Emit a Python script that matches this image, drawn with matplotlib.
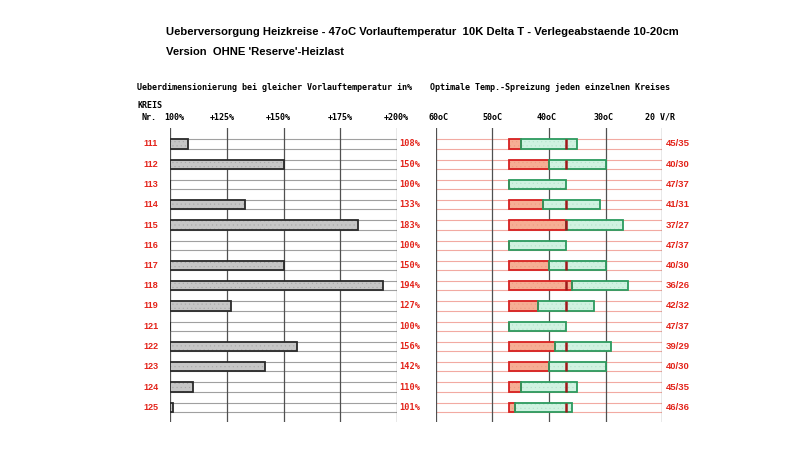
import matplotlib
matplotlib.use("Agg")
import matplotlib.pyplot as plt
import numpy as np

# ---- data ----
kreis = ['111', '112', '113', '114', '115', '116', '117', '118', '119', '121', '122', '123', '124', '125']
ueber = [108, 150, 100, 133, 183, 100, 150, 194, 127, 100, 156, 142, 110, 101]
vorlauf = [45, 40, 47, 41, 37, 47, 40, 36, 42, 47, 39, 40, 45, 46]
ruecklauf = [35, 30, 37, 31, 27, 37, 30, 26, 32, 37, 29, 30, 35, 36]
supply_temp = 47
nominal_return = 37
left_ticks = [100, 125, 150, 175, 200]
left_ticklabels = ['100%', '+125%', '+150%', '+175%', '+200%']
right_ticks = [60, 50, 40, 30, 20]
right_ticklabels = ['60oC', '50oC', '40oC', '30oC', '20 V/R']

title1 = "Ueberversorgung Heizkreise - 47oC Vorlauftemperatur  10K Delta T - Verlegeabstaende 10-20cm"
title2 = "Version  OHNE 'Reserve'-Heizlast"
sub_left = "Ueberdimensionierung bei gleicher Vorlauftemperatur in%"
sub_right = "Optimale Temp.-Spreizung jeden einzelnen Kreises"

RED = '#e3241b'
MONO = 'DejaVu Sans Mono'
SANS = 'Liberation Sans'
plt.rcParams['hatch.linewidth'] = 0.3

W, H = 800, 450
fig = plt.figure(figsize=(8, 4.5), dpi=100)
fig.patch.set_facecolor('white')

def fx(px):
    return px / W

def fy(py):
    return 1 - py / H

y_top_px, y_bot_px = 128, 422
row0_px, pitch = 144.0, 20.25
ylim = ((y_bot_px - row0_px) / pitch, (y_top_px - row0_px) / pitch)
ax_bottom = fy(y_bot_px)
ax_height = (y_bot_px - y_top_px) / H

axL = fig.add_axes([fx(170.3), ax_bottom, fx(396.7 - 170.3), ax_height])
axR = fig.add_axes([fx(435.7), ax_bottom, fx(662.3 - 435.7), ax_height])

n = len(kreis)
ys = np.arange(n)
bh = 0.45

for ax in (axL, axR):
    ax.set_ylim(*ylim)
    for s in ax.spines.values():
        s.set_visible(False)
    ax.set_xticks([])
    ax.set_yticks([])
    ax.patch.set_alpha(0)

axL.set_xlim(100, 200)
axR.set_xlim(60, 20)

# horizontal row lines
for y in ys:
    for dy in (-bh / 2, bh / 2):
        axL.plot([100, 200.8], [y + dy, y + dy], color='#a0a0a0', lw=0.8, zorder=1)
        axR.plot([60, 20], [y + dy, y + dy], color='#f2aaa2', lw=0.8, zorder=1)

# vertical grid
for t in left_ticks:
    axL.axvline(t, color='#505050', lw=0.9, zorder=2)
for t in right_ticks:
    axR.axvline(t, color='#505050', lw=0.9, zorder=2)

# left bars
widths = [u - 100 for u in ueber]
axL.barh(ys, widths, left=100, height=bh, color='#c6c6c6', edgecolor='#a8a8a8',
         hatch='....', linewidth=0, zorder=3)
axL.barh(ys, widths, left=100, height=bh, facecolor='none', edgecolor='#2a2a2a',
         linewidth=1.3, zorder=4)

# right bars
red_w = [supply_temp - v for v in vorlauf]
green_w = [v - r for v, r in zip(vorlauf, ruecklauf)]
axR.barh(ys, red_w, left=vorlauf, height=bh, color='#f6ae94', edgecolor='#ee9c82',
         hatch='....', linewidth=0, zorder=3)
axR.barh(ys, red_w, left=vorlauf, height=bh, facecolor='none', edgecolor='#d62020',
         linewidth=1.3, zorder=4)
axR.barh(ys, green_w, left=ruecklauf, height=bh, color='#d0f2e1', edgecolor='#b4e3cb',
         hatch='....', linewidth=0, zorder=3)
axR.barh(ys, green_w, left=ruecklauf, height=bh, facecolor='none', edgecolor='#2b9a5e',
         linewidth=1.3, zorder=4)
for y, v in zip(ys, vorlauf):
    if v < supply_temp:
        axR.plot([nominal_return, nominal_return], [y - bh / 2, y + bh / 2],
                 color='#a0181a', lw=1.8, zorder=5, solid_capstyle='butt')

# row labels and value labels
for y, k, u, v, r in zip(ys, kreis, ueber, vorlauf, ruecklauf):
    py = row0_px + y * pitch
    fig.text(fx(151), fy(py), k, color=RED, fontsize=6.5, fontweight='bold',
             family=SANS, ha='center', va='center')
    fig.text(fx(399.5), fy(py), f'{u}%', color=RED, fontsize=6.2, fontweight='bold',
             family=MONO, ha='left', va='center')
    fig.text(fx(666), fy(py), f'{v}/{r}', color=RED, fontsize=6.8, fontweight='bold',
             family=SANS, ha='left', va='center')

# titles
fig.text(fx(166), fy(32), title1, fontsize=8.1, fontweight='bold', family=SANS,
         ha='left', va='center')
fig.text(fx(166), fy(52), title2, fontsize=8.1, fontweight='bold', family=SANS,
         ha='left', va='center')

fig.text(fx(137), fy(87), sub_left, fontsize=6.0, family=MONO, fontweight='bold',
         ha='left', va='center')
fig.text(fx(430), fy(87), sub_right, fontsize=6.0, family=MONO, fontweight='bold',
         ha='left', va='center')
fig.text(fx(137), fy(105), 'KREIS', fontsize=6.0, family=MONO, fontweight='bold',
         ha='left', va='center')
fig.text(fx(142), fy(117), 'Nr.', fontsize=6.0, family=MONO, fontweight='bold',
         ha='left', va='center')

# tick labels
left_label_px = [174, 222, 278, 340, 396.5]
for px, lab in zip(left_label_px, left_ticklabels):
    fig.text(fx(px), fy(117), lab, fontsize=6.0, family=MONO, fontweight='bold',
             ha='center', va='center')
right_label_px = [438.5, 492, 546.5, 604, 660]
for px, lab in zip(right_label_px, right_ticklabels):
    fig.text(fx(px), fy(117), lab, fontsize=6.0, family=MONO, fontweight='bold',
             ha='center', va='center')

fig.savefig('out.png', dpi=100, facecolor='white')
